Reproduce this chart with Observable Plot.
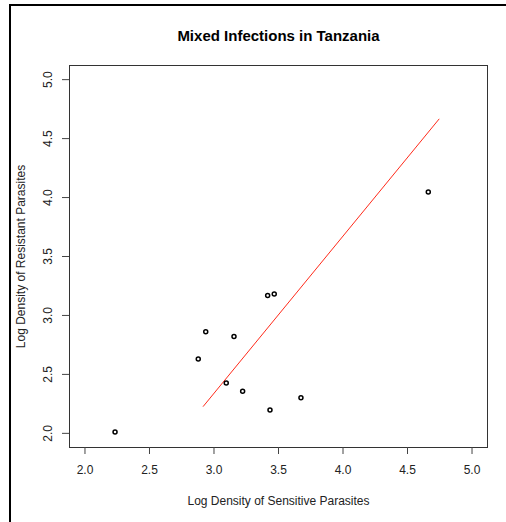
<!DOCTYPE html>
<html>
<head>
<meta charset="utf-8">
<script src="https://cdn.jsdelivr.net/npm/d3@7"></script>
<script src="https://cdn.jsdelivr.net/npm/@observablehq/plot@0.6"></script>
<style>
  html, body { margin: 0; padding: 0; background: white; }
  #wrap { position: relative; width: 506px; height: 522px; overflow: hidden; background: white; }
  #border { position: absolute; left: 9px; top: 4px; width: 497px; height: 518px;
            border-left: 2px solid #000; border-top: 2px solid #000; box-sizing: border-box; pointer-events: none; }
  #chart { position: absolute; left: 0; top: 0; }
</style>
</head>
<body>
<div id="wrap"><div id="chart"></div><div id="border"></div></div>
<script>
const titleText = "Mixed Infections in Tanzania";
const xLabel = "Log Density of Sensitive Parasites";
const yLabel = "Log Density of Resistant Parasites";

const sensitive = [2.233, 2.878, 2.936, 3.095, 3.155, 3.222, 3.416, 3.467, 3.434, 3.674, 4.661];
const resistant = [2.011, 2.631, 2.861, 2.427, 2.822, 2.357, 3.170, 3.181, 2.198, 2.303, 4.048];

const fitX = [2.917, 4.744];
const fitY = [2.229, 4.665];

const xTicks = [2.0, 2.5, 3.0, 3.5, 4.0, 4.5, 5.0];
const yTicks = [2.0, 2.5, 3.0, 3.5, 4.0, 4.5, 5.0];

const points = sensitive.map((s, i) => ({x: s, y: resistant[i]}));
const fit = fitX.map((x, i) => ({x, y: fitY[i]}));
const fmt = d3.format(".1f");
const ink = "#222";

const chart = Plot.plot({
  width: 506,
  height: 522,
  marginLeft: 69,
  marginRight: 19,
  marginTop: 65,
  marginBottom: 75,
  style: {fontFamily: "'Liberation Sans', Arial, sans-serif", fontSize: "12px", background: "white", color: ink},
  x: {domain: [1.88, 5.12], axis: null},
  y: {domain: [1.88, 5.12], axis: null},
  marks: [
    Plot.frame({stroke: "#333"}),
    Plot.axisX({ticks: xTicks, tickSize: 7, tickPadding: 11, tickFormat: fmt, stroke: "#444", fill: ink, fontSize: 12, label: null}),
    Plot.axisY({ticks: yTicks, tickSize: 7, tickFormat: () => "", stroke: "#444", label: null}),
    Plot.text(yTicks, {y: d => d, text: d => fmt(d), frameAnchor: "left", dx: -17.5, rotate: -90,
      textAnchor: "middle", lineAnchor: "bottom", fill: ink, fontSize: 12}),
    Plot.line(fit, {x: "x", y: "y", stroke: "#ff2a1a", strokeWidth: 1}),
    Plot.dot(points, {x: "x", y: "y", r: 2, stroke: "#000", strokeWidth: 1.5, fill: "none"}),
    Plot.text([titleText], {text: d => d, frameAnchor: "top", dy: -24.5, lineAnchor: "bottom",
      fontWeight: "bold", fontSize: 15, fill: "#000"}),
    Plot.text([xLabel], {text: d => d, frameAnchor: "bottom", dy: 57.5, lineAnchor: "bottom", fill: ink, fontSize: 12}),
    Plot.text([yLabel], {text: d => d, frameAnchor: "left", dx: -44.5, rotate: -90,
      textAnchor: "middle", lineAnchor: "bottom", fill: ink, fontSize: 12})
  ]
});
document.getElementById("chart").appendChild(chart);
</script>
</body>
</html>
